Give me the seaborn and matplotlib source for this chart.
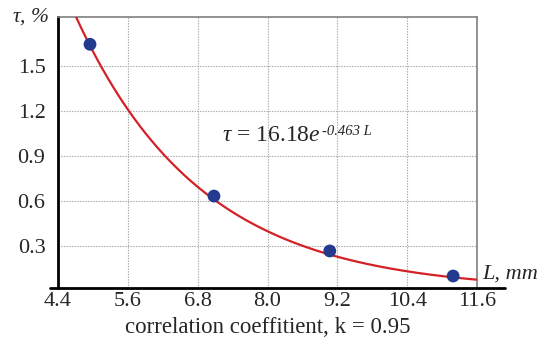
import numpy as np
import pandas as pd
import matplotlib
matplotlib.use("Agg")
import matplotlib.pyplot as plt
import seaborn as sns

# Data
L_points = [4.95, 7.08, 9.07, 11.19]
tau_points = [1.645, 0.633, 0.267, 0.10]
fit_a = 16.18
fit_b = -0.463
x_ticks = [4.4, 5.6, 6.8, 8.0, 9.2, 10.4, 11.6]
y_ticks = [0.3, 0.6, 0.9, 1.2, 1.5]

sns.set_style("white")
plt.rcParams['font.family'] = ['Liberation Serif', 'DejaVu Serif']
plt.rcParams['mathtext.fontset'] = 'custom'
plt.rcParams['mathtext.rm'] = 'Liberation Serif'
plt.rcParams['mathtext.it'] = 'Liberation Serif:italic'

fig = plt.figure(figsize=(5.37, 3.38), dpi=100)
ax = fig.add_axes([58/537, 1-288/338, (477-58)/537, (288-17)/338])

# fitted curve from the printed equation
L_fit = np.linspace(4.6, 11.6, 300)
fit_df = pd.DataFrame({"L": L_fit, "tau": fit_a * np.exp(fit_b * L_fit)})
sns.lineplot(data=fit_df, x="L", y="tau", ax=ax, color="#d42027", lw=1.6, zorder=3)

pts = pd.DataFrame({"L": L_points, "tau": tau_points})
sns.scatterplot(data=pts, x="L", y="tau", ax=ax, color="#233a8f", s=85,
                edgecolor="none", zorder=4, clip_on=False)

ax.set_xlim(4.4, 11.6)
ax.set_ylim(0.02, 1.827)
ax.set_xticks(x_ticks)
ax.set_xticklabels([f"{v:.1f}" for v in x_ticks])
ax.set_yticks(y_ticks)
ax.set_yticklabels([f"{v:.1f}" for v in y_ticks])
ax.tick_params(axis='x', labelsize=16, length=0, pad=3)
ax.tick_params(axis='y', labelsize=16, length=0, pad=9)
ax.set_xlabel("correlation coeffitient, k = 0.95", fontsize=16.5, labelpad=4)
ax.set_ylabel("")

ax.grid(True, color="#a8a8a8", linestyle=(0, (1.2, 1.2)), lw=0.8)

for side in ["top", "right"]:
    ax.spines[side].set_color("#808080")
    ax.spines[side].set_linewidth(1.2)
ax.spines["left"].set_color("black")
ax.spines["left"].set_linewidth(2.0)
ax.spines["bottom"].set_visible(False)
# extended x-axis line
ax.plot([-8/419, (505-58)/419], [0, 0], transform=ax.transAxes, color="black",
        lw=2.0, clip_on=False, zorder=5)

ax.text(-0.022, 1.0, r"$\tau$, %", transform=ax.transAxes, ha="right", va="center",
        fontsize=15.5, style="italic")
ax.text(1.012, 0.05, "L, mm", transform=ax.transAxes, ha="left", va="center",
        fontsize=16, style="italic")
t1 = ax.text((222-58)/419, (288-141)/271, r"$\tau$ = 16.18$\mathit{e}$", transform=ax.transAxes,
             ha="left", va="baseline", fontsize=17)
ax.annotate("-0.463 L", xy=(1, 1), xycoords=t1, xytext=(1.0, 0), textcoords="offset points",
            ha="left", va="top", fontsize=10.5, style="italic")

fig.savefig("out.png", dpi=100)
